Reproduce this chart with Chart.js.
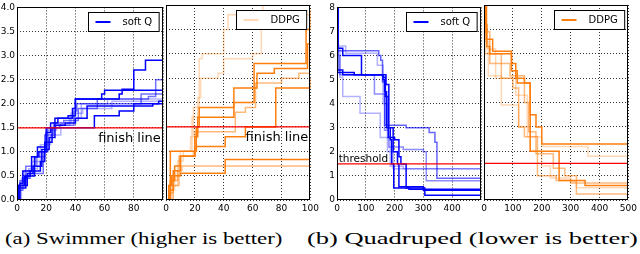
<!DOCTYPE html>
<html>
<head>
<meta charset="utf-8">
<script src="https://cdn.jsdelivr.net/npm/chart.js@4/dist/chart.umd.min.js"></script>
<style>
    html, body { margin: 0; padding: 0; background: #fff; }
    body { width: 640px; height: 254px; position: relative; overflow: hidden; }
    canvas { position: absolute; top: 0; }
    .caption {
        position: absolute;
        top: 230px;
        font-family: "Liberation Serif", "Times New Roman", serif;
        font-size: 16px;
        line-height: 18px;
        color: #000;
        white-space: nowrap;
        transform-origin: 0 0;
    }
</style>
</head>
<body>
<canvas id="swimQ" width="166" height="214" style="left:0px"></canvas>
<canvas id="swimD" width="162" height="214" style="left:160px"></canvas>
<canvas id="quadQ" width="164" height="214" style="left:320px"></canvas>
<canvas id="quadD" width="162" height="214" style="left:478px"></canvas>
<div class="caption" id="capA" data-left="5" data-width="278">(a) Swimmer (higher is better)</div>
<div class="caption" id="capB" data-left="307" data-width="331">(b) Quadruped (lower is better)</div>

<script>
// Best score reached so far, one list of [iteration, value] steps per run.
const swimmerSoftQ = [
    [[0, 0], [1, 0.3], [5, 0.5], [9, 0.6], [12, 0.9], [15, 1.0], [20, 1.4], [23, 1.6], [28, 1.7], [38, 1.9], [40, 2.1], [70, 2.2], [72, 2.3], [80, 2.7], [88, 2.9], [100, 2.9]],
    [[0, 0], [1, 0.25], [6, 0.5], [12, 0.6], [16, 0.8], [19, 1.2], [24, 1.5], [52, 1.5], [53, 1.75], [70, 1.85], [80, 2.0], [97, 2.05], [100, 2.05]],
    [[0, 0], [2, 0.35], [4, 0.6], [10, 0.9], [14, 1.1], [20, 1.5], [26, 1.7], [35, 1.75], [40, 2.1], [58, 2.2], [60, 2.28], [100, 2.28]],
    [[0, 0], [1, 0.3], [7, 0.55], [11, 0.7], [17, 1.05], [22, 1.3], [26, 1.55], [33, 1.6], [40, 1.7], [48, 1.95], [90, 1.95], [93, 2.0], [100, 2.0]],
    [[0, 0], [2, 0.4], [6, 0.7], [13, 0.9], [19, 1.35], [25, 1.6], [32, 1.65], [42, 1.9], [55, 2.1], [90, 2.15], [95, 2.5], [100, 2.8]],
    [[0, 0], [3, 0.45], [8, 0.65], [14, 1.0], [21, 1.45], [27, 1.55], [36, 1.7], [44, 2.0], [62, 2.1], [100, 2.15]],
    [[0, 0], [2, 0.3], [5, 0.6], [10, 0.8], [16, 1.15], [23, 1.35], [30, 1.6], [37, 1.8], [45, 1.9], [65, 2.05], [100, 2.1]],
    [[0, 0], [1, 0.2], [4, 0.45], [9, 0.55], [18, 1.0], [21, 1.5], [29, 1.55], [39, 1.85], [41, 2.0], [85, 2.2], [100, 2.2]],
];

const swimmerDDPG = [
    [[0, 0], [3, 0.2], [6, 0.5], [10, 1.0], [17, 1.3], [19, 1.9], [23, 2.9], [25, 3.0], [38, 3.0], [40, 3.5], [43, 3.8], [65, 3.8], [67, 4.0], [100, 4.0]],
    [[0, 0], [4, 0.3], [8, 0.8], [12, 1.0], [18, 1.7], [22, 2.1], [24, 2.5], [36, 2.6], [40, 2.9], [60, 3.0], [66, 3.8], [100, 3.8]],
    [[0, 0], [2, 0.3], [3, 1.0], [20, 1.0], [21, 1.5], [23, 1.9], [46, 1.9], [47, 2.0], [60, 2.0], [61, 2.8], [96, 2.8], [97, 3.5], [100, 3.9]],
    [[0, 0], [3, 0.4], [6, 0.7], [10, 0.9], [20, 1.3], [22, 1.7], [40, 1.7], [47, 2.3], [62, 2.3], [63, 2.6], [75, 2.7], [95, 2.7], [98, 3.2], [100, 3.2]],
    [[0, 0], [5, 0.3], [9, 0.9], [19, 1.0], [20, 1.4], [40, 1.4], [48, 1.8], [55, 1.9], [62, 2.4], [80, 2.5], [92, 2.6], [100, 2.6]],
    [[0, 0], [2, 0.2], [5, 0.6], [10, 0.9], [20, 1.1], [40, 1.1], [41, 1.3], [47, 1.3], [55, 1.5], [75, 1.5], [76, 2.3], [95, 2.3], [100, 2.5]],
    [[0, 0], [2, 0.3], [4, 0.5], [10, 0.55], [40, 0.55], [41, 0.83], [100, 0.83]],
    [[0, 0], [3, 0.15], [5, 0.4], [8, 0.6], [11, 0.7], [100, 0.73]],
];

const quadrupedSoftQ = [
    [[0, 8], [3, 6.3], [20, 6.0], [85, 5.2], [160, 5.0], [165, 4.5], [172, 3.0], [185, 2.5], [190, 1.5], [197, 0.5], [250, 0.45], [500, 0.4]],
    [[0, 8], [2, 5.4], [20, 5.2], [160, 5.1], [168, 4.3], [178, 2.6], [200, 2.5], [215, 1.8], [222, 1.5], [240, 0.5], [300, 0.4], [500, 0.4]],
    [[0, 8], [2, 5.3], [60, 5.2], [170, 4.8], [180, 3.0], [195, 2.0], [210, 1.5], [215, 0.55], [300, 0.5], [305, 0.2], [500, 0.2]],
    [[0, 8], [2, 6.2], [40, 6.2], [145, 6.0], [152, 5.8], [158, 4.9], [166, 3.1], [240, 3.0], [300, 3.0], [320, 2.8], [340, 2.4], [347, 0.9], [500, 0.9]],
    [[0, 8], [3, 6.0], [10, 5.2], [130, 4.4], [165, 2.9], [180, 2.2], [230, 2.1], [300, 2.0], [310, 0.8], [500, 0.7]],
    [[0, 8], [5, 6.3], [10, 5.1], [20, 4.3], [80, 3.6], [150, 2.6], [185, 1.4], [230, 1.3], [500, 1.25]],
    [[0, 8], [4, 6.4], [30, 6.1], [140, 5.6], [160, 4.0], [175, 2.0], [195, 1.3], [500, 1.3]],
];

const quadrupedDDPG = [
    [[0, 8], [5, 7.2], [10, 6.3], [20, 6.0], [95, 5.6], [110, 5.0], [140, 4.8], [160, 3.5], [180, 3.0], [200, 2.3], [500, 2.3]],
    [[0, 8], [8, 6.6], [30, 6.1], [95, 5.3], [115, 4.8], [150, 4.8], [160, 2.0], [255, 2.0], [260, 0.8], [350, 0.6], [500, 0.6]],
    [[0, 8], [6, 6.9], [20, 5.6], [90, 5.1], [140, 4.0], [155, 2.8], [180, 1.9], [240, 1.3], [280, 1.0], [320, 0.25], [500, 0.25]],
    [[0, 8], [3, 6.0], [60, 5.0], [100, 4.6], [120, 3.0], [140, 2.6], [185, 1.0], [250, 0.8], [300, 0.7], [500, 0.7]],
    [[0, 8], [10, 6.2], [40, 5.0], [70, 5.0], [110, 4.3], [150, 2.6], [200, 2.2], [350, 2.2], [360, 1.8], [500, 1.8]],
    [[0, 8], [5, 6.5], [15, 5.1], [60, 3.9], [120, 3.0], [160, 2.0], [200, 1.4], [230, 0.9], [300, 0.75], [320, 0.5], [500, 0.5]],
];

const seriesNames = ["soft Q", "DDPG"];
const swimmerGoal = 1.5;
const quadrupedGoal = 1.5;

// Line opacity of each run (same order as the runs above)
const swimmerSoftQShade = [1, 1, 1, 1, 0.55, 0.3, 0.3, 0.55];
const swimmerDDPGShade = [0.3, 0.3, 1, 1, 0.55, 1, 1, 0.55];
const quadrupedSoftQShade = [1, 1, 1, 0.6, 0.45, 0.3, 0.3];
const quadrupedDDPGShade = [1, 1, 0.55, 0.55, 0.3, 0.3];

const BLUE = "0,0,255";
const ORANGE = "255,127,14";
const FONT = "'DejaVu Sans', sans-serif";

// Frame, legend box and the text notes of a panel
const panelPlugin = {
    id: "panel",
    afterDatasetsDraw(chart, args, opts) {
        const { ctx, chartArea: a, scales } = chart;
        ctx.save();

        // text notes placed in data units
        for (const note of opts.notes || []) {
            ctx.font = `${note.size}px ${FONT}`;
            ctx.fillStyle = "#000";
            ctx.textAlign = note.align;
            ctx.textBaseline = note.baseline;
            ctx.fillText(
                note.text,
                scales.x.getPixelForValue(note.x),
                scales.y.getPixelForValue(note.y) + (note.dy || 0),
            );
        }

        // legend box with the labelled dataset
        const item = chart.data.datasets.find((d) => d.label);
        if (item) {
            ctx.font = `10px ${FONT}`;
            const tw = ctx.measureText(item.label).width;
            const w = 7 + 15 + 12 + tw + 7;
            const h = 19;
            const bx = Math.round(a.right - 4 - w) + 0.5;
            const by = Math.round(a.top + 5) + 0.5;
            ctx.fillStyle = "#fff";
            ctx.fillRect(bx, by, w, h);
            ctx.strokeStyle = "#000";
            ctx.lineWidth = 1;
            ctx.strokeRect(bx, by, w, h);
            ctx.strokeStyle = item.borderColor;
            ctx.lineWidth = 2;
            ctx.beginPath();
            ctx.moveTo(bx + 7, by + h / 2);
            ctx.lineTo(bx + 22, by + h / 2);
            ctx.stroke();
            ctx.fillStyle = "#000";
            ctx.textAlign = "left";
            ctx.textBaseline = "middle";
            ctx.fillText(item.label, bx + 34, by + h / 2 + 0.5);
        }

        // black frame round the plot area
        ctx.strokeStyle = "#000";
        ctx.lineWidth = 1;
        ctx.strokeRect(Math.round(a.left) + 0.5, Math.round(a.top) + 0.5,
            Math.round(a.width) - 1, Math.round(a.height) - 1);
        ctx.restore();
    },
};

function makePanel(id, runs, shades, rgb, label, goal, cfg) {
    const datasets = [{
        label: "",
        data: [{ x: 0, y: goal }, { x: cfg.xMax, y: goal }],
        borderColor: "#ff0000",
        borderWidth: 1.2,
        pointRadius: 0,
    }];

    runs.forEach((run, i) => {
        datasets.push({
            label: i === 0 ? label : "",
            data: run.map(([x, y]) => ({ x, y })),
            borderColor: `rgba(${rgb},${shades[i]})`,
            borderWidth: 1.5,
            pointRadius: 0,
            stepped: true,
        });
    });

    const gridOpts = { color: "#000", lineWidth: 0.8, drawTicks: false };

    return new Chart(document.getElementById(id), {
        type: "line",
        data: { datasets },
        options: {
            responsive: false,
            animation: false,
            devicePixelRatio: 1,
            layout: { padding: { top: 5, right: cfg.padRight, left: 0, bottom: 0 } },
            scales: {
                x: {
                    type: "linear",
                    min: 0,
                    max: cfg.xMax,
                    grid: gridOpts,
                    border: { display: false, dash: [1, 2] },
                    ticks: {
                        stepSize: cfg.xStep,
                        autoSkip: false,
                        maxRotation: 0,
                        padding: 3,
                        color: "#000",
                        font: { family: FONT, size: 9 },
                        callback: (v) => (cfg.hideLastX && v === cfg.xMax ? "" : v),
                    },
                    afterFit: (s) => { s.height = 14; },
                },
                y: {
                    min: 0,
                    max: cfg.yMax,
                    grid: gridOpts,
                    border: { display: false, dash: [1, 2] },
                    ticks: {
                        display: cfg.showY,
                        stepSize: cfg.yStep,
                        autoSkip: false,
                        padding: 2,
                        color: "#000",
                        font: { family: FONT, size: 9 },
                        callback: (v) => v.toFixed(cfg.yDigits),
                    },
                    afterFit: (s) => { s.width = cfg.yWidth; },
                },
            },
            plugins: {
                legend: { display: false },
                tooltip: { enabled: false },
                panel: { notes: cfg.notes },
            },
        },
        plugins: [panelPlugin],
    });
}

const swimAxes = { xMax: 100, xStep: 20, yMax: 4, yStep: 0.5, yDigits: 1 };
const quadAxes = { xMax: 500, xStep: 100, yMax: 8, yStep: 1, yDigits: 0 };
const finishNote = { text: "finish line", x: 98.5, y: swimmerGoal, dy: 4, size: 13, align: "right", baseline: "top" };
const thresholdNote = { text: "threshold", x: 6, y: quadrupedGoal, dy: -2, size: 10.5, align: "left", baseline: "alphabetic" };

makePanel("swimQ", swimmerSoftQ, swimmerSoftQShade, BLUE, seriesNames[0], swimmerGoal,
    { ...swimAxes, showY: true, yWidth: 17, padRight: 3, hideLastX: true, notes: [finishNote] });
makePanel("swimD", swimmerDDPG, swimmerDDPGShade, ORANGE, seriesNames[1], swimmerGoal,
    { ...swimAxes, showY: false, yWidth: 6, padRight: 10, hideLastX: false, notes: [finishNote] });
makePanel("quadQ", quadrupedSoftQ, quadrupedSoftQShade, BLUE, seriesNames[0], quadrupedGoal,
    { ...quadAxes, showY: true, yWidth: 17, padRight: 3, hideLastX: true, notes: [thresholdNote] });
makePanel("quadD", quadrupedDDPG, quadrupedDDPGShade, ORANGE, seriesNames[1], quadrupedGoal,
    { ...quadAxes, showY: false, yWidth: 6, padRight: 10, hideLastX: false, notes: [] });

// Stretch each caption to the width it has in the figure
for (const cap of document.querySelectorAll(".caption")) {
    cap.style.left = cap.dataset.left + "px";
    const scale = Number(cap.dataset.width) / cap.offsetWidth;
    cap.style.transform = `scaleX(${scale})`;
}
</script>
</body>
</html>
